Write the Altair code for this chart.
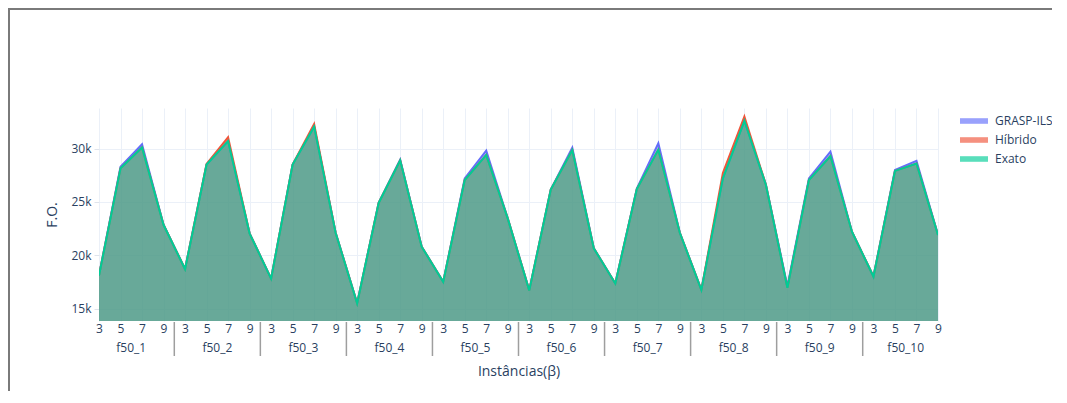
import altair as alt
import pandas as pd

instances = [f"f50_{i}" for i in range(1, 11)]
betas = [3, 5, 7, 9]
series = ["GRASP-ILS", "Híbrido", "Exato"]
colors = ["#636efa", "#EF553B", "#00cc96"]

grasp = [18100, 28300, 30400, 22850,
         18700, 28500, 30700, 22050,
         17800, 28500, 32050, 22100,
         15500, 24900, 28950, 20800,
         17500, 27200, 29800, 23450,
         16700, 26150, 30080, 20650,
         17350, 26250, 30500, 22100,
         16750, 27200, 32600, 26600,
         17100, 27200, 29700, 22200,
         18000, 28000, 28850, 21900]
hibrido = [18100, 28150, 30100, 22850,
           18700, 28550, 31050, 22050,
           17800, 28500, 32300, 22100,
           15500, 24900, 28900, 20800,
           17500, 27050, 29400, 23450,
           16700, 26150, 29850, 20650,
           17350, 26200, 29900, 22100,
           16750, 27700, 33000, 26600,
           16950, 27050, 29300, 22200,
           18000, 27900, 28600, 21900]
exato = [18100, 28150, 30100, 22850,
         18700, 28500, 30700, 22050,
         17800, 28500, 32050, 22100,
         15500, 24900, 28900, 20800,
         17500, 27050, 29400, 23450,
         16700, 26150, 29850, 20650,
         17350, 26200, 29900, 22100,
         16750, 27200, 32600, 26600,
         16950, 27050, 29300, 22200,
         18000, 27900, 28600, 21900]

values = {"GRASP-ILS": grasp, "Híbrido": hibrido, "Exato": exato}

rows = []
for s in series:
    for gi, inst in enumerate(instances):
        for bi, b in enumerate(betas):
            idx = gi * 4 + bi
            rows.append({"idx": idx, "instance": inst, "beta": b,
                         "series": s, "value": values[s][idx]})
df = pd.DataFrame(rows)

groups = pd.DataFrame({"idx": [4 * i + 1.5 for i in range(len(instances))],
                       "label": instances})
seps = pd.DataFrame({"idx": [4 * i + 3.5 for i in range(len(instances) - 1)]})
dummy = pd.DataFrame({"a": [0]})

FONT = "Open Sans"
TXT = "#2a3f5f"
GRID = "#EBF0F8"
W, H = 839, 213

X = alt.X("idx:Q",
          scale=alt.Scale(domain=[0, 39], nice=False, zero=False),
          axis=alt.Axis(values=list(range(40)),
                        labelExpr="['3','5','7','9'][datum.value % 4]",
                        ticks=False, domain=False, grid=True, gridColor=GRID,
                        labelPadding=2, labelOverlap=False, labelFlush=False,
                        title="Instâncias(β)", titleY=50, titleBaseline="middle"))
Y = alt.Y("value:Q",
          scale=alt.Scale(domain=[13830, 33800], nice=False, zero=False),
          axis=alt.Axis(values=[15000, 20000, 25000, 30000], format="~s",
                        tickSize=5, tickColor="#dfe4ec", domain=False,
                        grid=True, gridColor=GRID, labelPadding=3,
                        title="F.O.", titleX=-47, titleY=H / 2,
                        titleBaseline="middle"))
legend = alt.Legend(orient="none", legendX=861, legendY=6, title=None,
                    symbolType="M-1,-0.4H3V0.4H-1Z", symbolSize=196,
                    symbolOpacity=0.65, symbolStrokeWidth=0,
                    labelFont=FONT, labelFontSize=12, labelColor=TXT,
                    labelOffset=21, rowPadding=6)
C_area = alt.Color("series:N", scale=alt.Scale(domain=series, range=colors),
                   legend=legend)
C_line = alt.Color("series:N", scale=alt.Scale(domain=series, range=colors),
                   legend=legend)

layers = []
for s in series:
    sub = alt.Chart(df).transform_filter(alt.datum.series == s)
    layers.append(sub.mark_area(opacity=0.5, clip=True).encode(x=X, y=Y, color=C_area))
    layers.append(sub.mark_line(strokeWidth=2, clip=True).encode(x=X, y=Y, color=C_line))

sep_layer = alt.Chart(seps).mark_rule(color="#9e9e9e", strokeWidth=1.5).encode(
    x=X, y=alt.value(H + 1), y2=alt.value(H + 35))
grp_layer = alt.Chart(groups).mark_text(font=FONT, fontSize=12, color=TXT,
                                        baseline="middle").encode(
    x=X, y=alt.value(H + 27), text="label:N")
frame_top = alt.Chart(dummy).mark_rule(color="#7a7a7a", strokeWidth=2).encode(
    x=alt.value(-91), x2=alt.value(1000), y=alt.value(-99))
frame_left = alt.Chart(dummy).mark_rule(color="#7a7a7a", strokeWidth=2).encode(
    x=alt.value(-90), y=alt.value(-100), y2=alt.value(300))

chart = alt.layer(*layers, sep_layer, grp_layer, frame_top, frame_left).properties(
    width=W, height=H,
    autosize=alt.AutoSizeParams(type="none"),
    padding={"left": 91, "top": 100, "right": 114, "bottom": 70},
).configure_view(stroke=None).configure_axis(
    labelFont=FONT, labelColor=TXT, labelFontSize=12,
    titleFont=FONT, titleColor=TXT, titleFontSize=14, titleFontWeight="normal",
)

chart.save("out.html", embed_options={"renderer": "svg", "actions": False})
